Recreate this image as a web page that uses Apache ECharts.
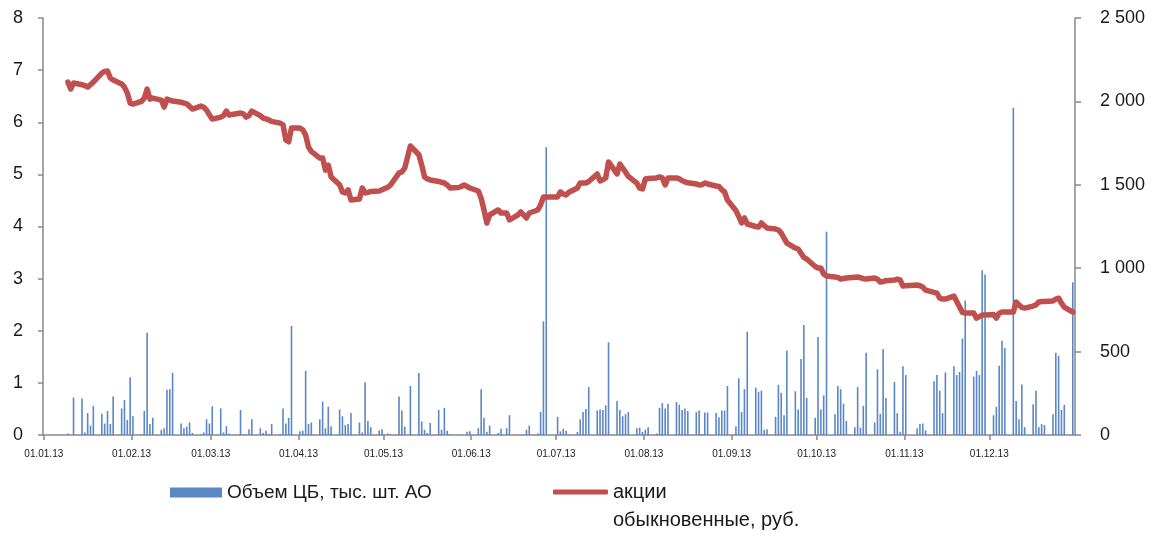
<!DOCTYPE html>
<html>
<head>
<meta charset="utf-8">
<script src="https://cdn.jsdelivr.net/npm/echarts@6/dist/echarts.min.js"></script>
<style>
html,body{margin:0;padding:0;background:#fff;}
#chart{width:1159px;height:533px;}
</style>
</head>
<body>
<div id="chart"></div>
<script>
const YEAR = '2013';
const barName = 'Объем ЦБ, тыс. шт. АО';
const lineName = 'акции обыкновенные, руб.';
const lineLegendLines = ['акции', 'обыкновенные, руб.'];

const barDates = ['01-09','01-11','01-14','01-15','01-16','01-17','01-18','01-21','01-22','01-23','01-24','01-25','01-28','01-29','01-30','01-31',
'02-01','02-04','02-05','02-06','02-07','02-08','02-11','02-12','02-13','02-14','02-15','02-18','02-19','02-20','02-21','02-22','02-25','02-26','02-27','02-28',
'03-01','03-04','03-05','03-06','03-07','03-11','03-12','03-13','03-14','03-15','03-18','03-19','03-20','03-21','03-22','03-25','03-26','03-27','03-28','03-29',
'04-01','04-02','04-03','04-04','04-05','04-08','04-09','04-10','04-11','04-12','04-15','04-16','04-17','04-18','04-19','04-22','04-23','04-24','04-25','04-26','04-29','04-30',
'05-02','05-03','05-06','05-07','05-08','05-10','05-13','05-14','05-15','05-16','05-17','05-20','05-21','05-22','05-23','05-24','05-27','05-30','05-31',
'06-03','06-04','06-05','06-06','06-07','06-10','06-11','06-13','06-14','06-20','06-21','06-24','06-25','06-26','06-27',
'07-01','07-02','07-03','07-04','07-05','07-08','07-09','07-10','07-11','07-12','07-15','07-16','07-17','07-18','07-19','07-22','07-23','07-24','07-25','07-26','07-29','07-30','07-31',
'08-01','08-02','08-05','08-06','08-07','08-08','08-09','08-12','08-13','08-14','08-15','08-16','08-19','08-20','08-21','08-22','08-23','08-26','08-27','08-28','08-29','08-30',
'09-02','09-03','09-04','09-05','09-06','09-09','09-10','09-11','09-12','09-13','09-16','09-17','09-18','09-19','09-20','09-23','09-24','09-25','09-26','09-27','09-30',
'10-01','10-02','10-03','10-04','10-07','10-08','10-09','10-10','10-11','10-14','10-15','10-16','10-17','10-18','10-21','10-22','10-23','10-24','10-25','10-28','10-29','10-30','10-31',
'11-01','11-05','11-06','11-07','11-08','11-11','11-12','11-13','11-14','11-15','11-18','11-19','11-20','11-21','11-22','11-25','11-26','11-27','11-28','11-29',
'12-02','12-03','12-04','12-05','12-06','12-09','12-10','12-11','12-12','12-13','12-16','12-17','12-18','12-19','12-20','12-23','12-24','12-25','12-26','12-27','12-30'];

const barValues = [0.03,0.72,0.70,0.05,0.42,0.18,0.56,0.41,0.22,0.46,0.21,0.74,0.51,0.67,0.29,1.11,
0.36,0.01,0.46,1.96,0.21,0.33,0.10,0.13,0.87,0.88,1.19,0.22,0.13,0.16,0.24,0.04,0.01,0.05,0.30,0.22,
0.55,0.51,0.05,0.17,0.03,0.48,0.01,0.01,0.11,0.30,0.13,0.04,0.08,0.02,0.21,0.02,0.51,0.22,0.33,2.09,
0.07,0.08,1.23,0.21,0.24,0.30,0.64,0.13,0.54,0.17,0.49,0.36,0.19,0.21,0.42,0.24,0.05,1.01,0.27,0.15,0.09,0.11,
0.03,0.01,0.74,0.47,0.16,0.94,1.19,0.26,0.10,0.04,0.23,0.48,0.10,0.52,0.08,0.02,0.01,0.06,0.07,
0.13,0.88,0.33,0.06,0.18,0.04,0.12,0.13,0.38,0.10,0.18,0.03,0.44,2.18,5.52,
0.35,0.07,0.12,0.08,0.01,0.06,0.30,0.44,0.50,0.92,0.47,0.49,0.48,0.57,1.78,0.65,0.48,0.36,0.40,0.44,0.13,0.14,0.06,
0.10,0.15,0.03,0.52,0.61,0.51,0.60,0.63,0.58,0.48,0.51,0.46,0.44,0.47,0.02,0.43,0.43,0.42,0.34,0.47,0.47,0.94,
0.17,1.09,0.44,0.88,1.98,0.91,0.83,0.85,0.10,0.11,0.35,0.96,0.81,0.38,1.62,0.84,0.49,1.46,2.11,0.71,0.33,
1.88,0.49,0.76,3.90,0.40,0.94,0.88,0.60,0.27,0.15,0.92,0.14,0.56,1.58,0.24,1.26,0.41,1.65,0.71,1.02,0.42,0.06,1.32,
1.15,0.13,0.21,0.22,0.09,1.03,1.15,0.85,0.42,1.20,1.32,1.15,1.21,1.85,2.58,1.12,1.23,1.15,3.16,3.08,
0.38,0.54,1.33,1.81,1.67,6.28,0.65,0.30,0.97,0.15,0.59,0.85,0.15,0.21,0.19,0.40,1.58,1.52,0.48,0.58,2.93];

const lineDates = ['01-09','01-10','01-11','01-14','01-15','01-16','01-17','01-18','01-21','01-22','01-23','01-24','01-25','01-28','01-29','01-30','01-31',
'02-01','02-04','02-05','02-06','02-07','02-08','02-11','02-12','02-13','02-14','02-15','02-18','02-19','02-20','02-21','02-22','02-25','02-26','02-27','02-28',
'03-01','03-04','03-05','03-06','03-07','03-11','03-12','03-13','03-14','03-15','03-18','03-19','03-20','03-21','03-22','03-25','03-26','03-27','03-28','03-29',
'04-01','04-02','04-03','04-04','04-05','04-08','04-09','04-10','04-11','04-12','04-15','04-16','04-17','04-18','04-19','04-22','04-23','04-24','04-25','04-26','04-29','04-30',
'05-02','05-03','05-06','05-07','05-08','05-10','05-13','05-14','05-15','05-16','05-17','05-20','05-21','05-22','05-23','05-24','05-27','05-28','05-29','05-30','05-31',
'06-03','06-04','06-05','06-06','06-07','06-10','06-11','06-13','06-14','06-17','06-18','06-19','06-20','06-21','06-24','06-25','06-26','06-27','06-28',
'07-01','07-02','07-03','07-04','07-05','07-08','07-09','07-10','07-11','07-12','07-15','07-16','07-17','07-18','07-19','07-22','07-23','07-24','07-25','07-26','07-29','07-30','07-31',
'08-01','08-02','08-05','08-06','08-07','08-08','08-09','08-12','08-13','08-14','08-15','08-16','08-19','08-20','08-21','08-22','08-23','08-26','08-27','08-28','08-29','08-30',
'09-02','09-03','09-04','09-05','09-06','09-09','09-10','09-11','09-12','09-13','09-16','09-17','09-18','09-19','09-20','09-23','09-24','09-25','09-26','09-27','09-30',
'10-01','10-02','10-03','10-04','10-07','10-08','10-09','10-10','10-11','10-14','10-15','10-16','10-17','10-18','10-21','10-22','10-23','10-24','10-25','10-28','10-29','10-30','10-31',
'11-01','11-05','11-06','11-07','11-08','11-11','11-12','11-13','11-14','11-15','11-18','11-19','11-20','11-21','11-22','11-25','11-26','11-27','11-28','11-29',
'12-02','12-03','12-04','12-05','12-06','12-09','12-10','12-11','12-12','12-13','12-16','12-17','12-18','12-19','12-20','12-23','12-24','12-25','12-26','12-27','12-30'];

const lineValues = [2116,2074,2110,2100,2095,2086,2100,2116,2170,2180,2182,2140,2128,2105,2086,2050,1990,
1984,2000,2020,2074,2014,2020,2008,1966,2014,2008,2002,1995,1990,1985,1970,1954,1972,1965,1948,1920,
1894,1906,1915,1942,1918,1930,1925,1906,1915,1942,1915,1900,1895,1888,1880,1870,1860,1769,1758,1840,
1840,1830,1798,1727,1700,1660,1660,1588,1618,1547,1500,1457,1451,1470,1409,1415,1481,1451,1455,1460,1463,1470,
1485,1499,1571,1577,1600,1733,1680,1619,1547,1535,1529,1520,1515,1511,1499,1481,1484,1490,1499,1490,1481,
1463,1420,1349,1271,1319,1349,1331,1331,1289,1320,1337,1320,1301,1331,1349,1380,1427,1427,1427,
1427,1457,1445,1439,1455,1481,1511,1511,1511,1520,1565,1523,1530,1541,1637,1565,1625,1600,1577,1550,1510,1480,1475,
1535,1538,1541,1547,1541,1499,1541,1541,1535,1525,1517,1512,1505,1499,1500,1511,1505,1493,1490,1470,1457,1409,
1345,1310,1271,1301,1265,1250,1247,1271,1255,1241,1235,1229,1211,1180,1151,1121,1115,1090,1065,1055,1010,
1001,1001,965,953,947,945,935,938,941,946,947,943,937,935,941,935,917,920,925,929,935,930,893,
895,899,895,887,869,855,851,820,815,815,833,800,767,735,731,731,701,710,719,720,
722,701,730,737,737,737,797,780,765,761,773,780,797,800,801,803,815,820,790,767,737];

const leftTicks = {min: 0, max: 8, interval: 1};
const rightTicks = {min: 0, max: 2500, interval: 500};

// trading-day values are centred within their day slot
const toTime = d => YEAR + '-' + d + 'T12:00:00';
const barData = barDates.map((d, i) => [toTime(d), barValues[i]]);
const lineData = lineDates.map((d, i) => [toTime(d), lineValues[i]]);

const axisGray = '#898989';
const textColor = '#1a1a1a';
const fontFam = 'Liberation Sans, Arial, sans-serif';

function fmtDate(v) {
  const d = new Date(v);
  const p = n => (n < 10 ? '0' : '') + n;
  return p(d.getDate()) + '.' + p(d.getMonth() + 1) + '.' + String(d.getFullYear()).slice(2);
}
function fmtThousands(v) {
  if (v >= 1000) return Math.floor(v / 1000) + ' ' + String(v % 1000).padStart(3, '0');
  return String(v);
}

const chart = echarts.init(document.getElementById('chart'), null, {renderer: 'canvas'});
chart.setOption({
  animation: false,
  backgroundColor: '#ffffff',
  textStyle: {fontFamily: fontFam},
  grid: {left: 43, right: 84, top: 18, bottom: 98, containLabel: false},
  legend: [
    {
      data: [barName],
      left: 165, top: 478,
      icon: 'rect', itemWidth: 52, itemHeight: 10,
      textStyle: {fontSize: 19, color: textColor, fontFamily: fontFam}
    },
    {
      data: [lineName],
      left: 548, top: 445,
      icon: 'roundRect', itemWidth: 55, itemHeight: 5,
      // empty first line keeps the icon level with the first text line
      formatter: () => ' \n' + lineLegendLines.join('\n'),
      textStyle: {fontSize: 20, color: textColor, fontFamily: fontFam, lineHeight: 28}
    }
  ],
  xAxis: {
    type: 'time',
    min: YEAR + '-01-01',
    max: YEAR + '-12-31',
    splitNumber: 12,
    axisLine: {show: true, lineStyle: {color: axisGray, width: 1.5}},
    axisTick: {show: true, length: 5, lineStyle: {color: axisGray, width: 1.5}},
    splitLine: {show: false},
    axisLabel: {formatter: fmtDate, fontSize: 10, color: textColor, margin: 14, fontFamily: 'Liberation Sans Narrow, Liberation Sans, Arial, sans-serif', showMaxLabel: false}
  },
  yAxis: [
    {
      type: 'value', position: 'left',
      min: leftTicks.min, max: leftTicks.max, interval: leftTicks.interval,
      axisLine: {show: true, lineStyle: {color: axisGray, width: 1.5}},
      axisTick: {show: true, length: 5, lineStyle: {color: axisGray, width: 1.5}},
      splitLine: {show: false},
      axisLabel: {fontSize: 18, color: textColor, margin: 20}
    },
    {
      type: 'value', position: 'right',
      min: rightTicks.min, max: rightTicks.max, interval: rightTicks.interval,
      axisLine: {show: true, lineStyle: {color: axisGray, width: 1.5}},
      axisTick: {show: true, length: 6, lineStyle: {color: axisGray, width: 1.5}},
      splitLine: {show: false},
      axisLabel: {fontSize: 18, color: textColor, margin: 25, formatter: fmtThousands}
    }
  ],
  series: [
    {
      name: barName, type: 'bar', yAxisIndex: 0,
      barWidth: 1.6,
      itemStyle: {color: '#5b87c5'},
      data: barData, z: 2
    },
    {
      name: lineName, type: 'line', yAxisIndex: 1,
      showSymbol: false, symbol: 'none', smooth: false,
      lineStyle: {color: '#c0504d', width: 5.5, cap: 'round', join: 'round'},
      itemStyle: {color: '#c0504d'},
      data: lineData, z: 3
    }
  ]
});
</script>
</body>
</html>
